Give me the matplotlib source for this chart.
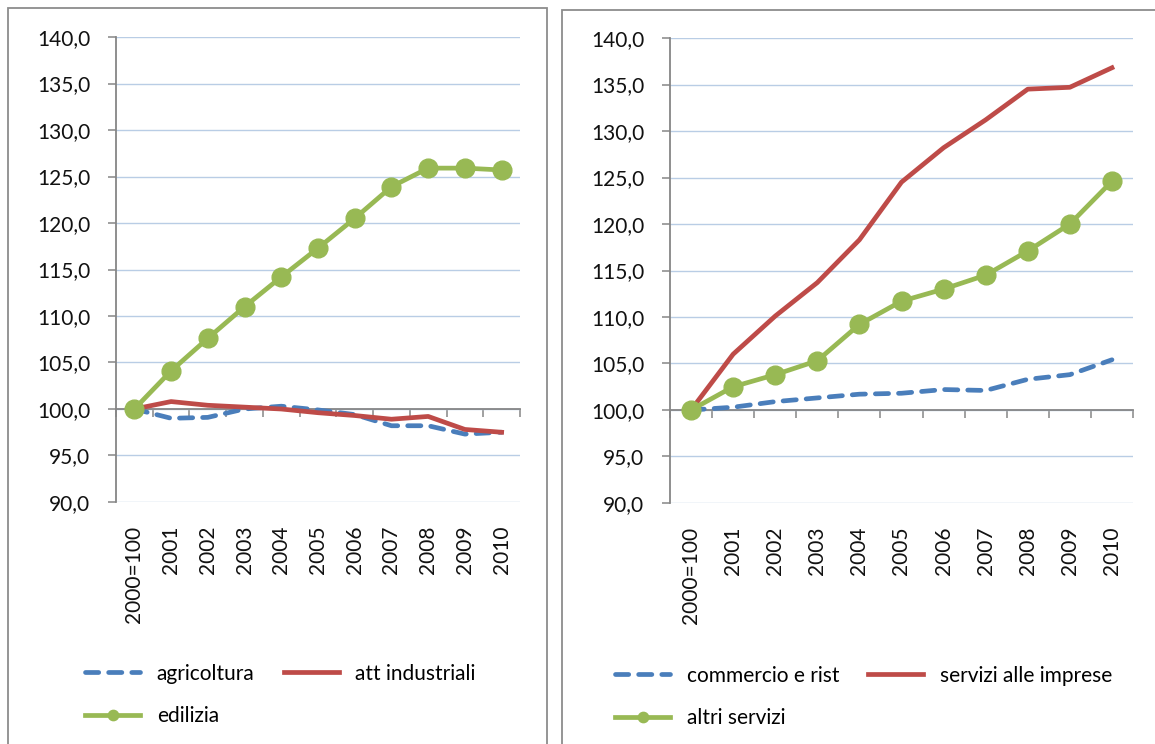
import matplotlib
matplotlib.use("Agg")
import matplotlib.pyplot as plt
from matplotlib.patches import Rectangle
from matplotlib.ticker import FuncFormatter, FixedLocator

plt.rcParams['font.family'] = ['Lato', 'DejaVu Sans']

categories = ["2000=100", "2001", "2002", "2003", "2004", "2005",
              "2006", "2007", "2008", "2009", "2010"]

# Left panel
agricoltura = [100.0, 99.0, 99.1, 100.0, 100.3, 99.9, 99.4, 98.2, 98.2, 97.3, 97.5]
att_industriali = [100.0, 100.8, 100.4, 100.2, 100.0, 99.6, 99.3, 98.9, 99.2, 97.8, 97.5]
edilizia = [100.0, 104.1, 107.6, 111.0, 114.2, 117.3, 120.5, 123.9, 125.9, 125.9, 125.7]

# Right panel
commercio = [100.0, 100.3, 100.9, 101.3, 101.7, 101.8, 102.2, 102.1, 103.3, 103.8, 105.4]
servizi_imprese = [100.0, 106.0, 110.1, 113.7, 118.3, 124.5, 128.2, 131.2, 134.5, 134.7, 136.8]
altri_servizi = [100.0, 102.5, 103.8, 105.3, 109.2, 111.7, 113.0, 114.5, 117.1, 120.0, 124.6]

left_labels = ["agricoltura", "att industriali", "edilizia"]
right_labels = ["commercio e rist", "servizi alle imprese", "altri servizi"]

yticks = [90, 95, 100, 105, 110, 115, 120, 125, 130, 135, 140]

BLUE = "#4a7ebb"
RED = "#be4b48"
GREEN = "#98b954"
GRID = "#b9cde5"
AXC = "#868686"

W, H = 1155, 744
fig = plt.figure(figsize=(W / 100, H / 100), dpi=100)
fig.patch.set_facecolor("white")

# panel borders
fig.patches.append(Rectangle((8 / W, -0.05), (547 - 8) / W, (744 - 8) / H + 0.05,
                             transform=fig.transFigure, fill=False,
                             edgecolor="#8c8c8c", lw=1.3, zorder=0))
fig.patches.append(Rectangle((562 / W, -0.05), (1200 - 562) / W, (744 - 10) / H + 0.05,
                             transform=fig.transFigure, fill=False,
                             edgecolor="#8c8c8c", lw=1.3, zorder=0))

ax_l = fig.add_axes([116 / W, (744 - 502) / H, (520 - 116) / W, (502 - 37) / H])
ax_r = fig.add_axes([670 / W, (744 - 503) / H, (1133 - 670) / W, (503 - 38) / H])

x = list(range(len(categories)))
fmt = FuncFormatter(lambda v, p: f"{v:.1f}".replace(".", ","))


def style(ax):
    ax.set_xlim(-0.5, len(categories) - 0.5)
    ax.set_ylim(90, 140)
    ax.yaxis.set_major_locator(FixedLocator(yticks))
    ax.yaxis.set_major_formatter(fmt)
    ax.grid(axis="y", color=GRID, lw=1.0)
    ax.set_axisbelow(True)
    for s in ["top", "right"]:
        ax.spines[s].set_visible(False)
    ax.spines["left"].set_color(AXC)
    ax.spines["left"].set_linewidth(1.3)
    ax.spines["bottom"].set_color(AXC)
    ax.spines["bottom"].set_linewidth(1.3)
    ax.spines["bottom"].set_position(("data", 100))
    ax.tick_params(axis="y", direction="out", length=5.5, width=1.1, color=AXC,
                   labelsize=15, pad=13, labelcolor="#111111")
    # category boundary ticks on axis crossing at 100
    ax.set_xticks([i - 0.5 for i in range(len(categories) + 1)])
    ax.set_xticklabels([])
    ax.tick_params(axis="x", direction="out", length=5.5, width=1.1, color=AXC)
    sec = ax.secondary_xaxis(0)
    sec.set_xticks(x)
    sec.set_xticklabels(categories, rotation=90, fontsize=15, color="#111111")
    sec.tick_params(length=0, pad=17)
    sec.spines["bottom"].set_visible(False)


def legend(ax, handles, labels, xy):
    h = [handles[0], handles[2], handles[1]]
    l = [labels[0], labels[2], labels[1]]
    fig.legend(h, l, loc="center left", bbox_to_anchor=xy,
               bbox_transform=fig.transFigure, ncol=2, frameon=False,
               fontsize=15, handlelength=2.64, handletextpad=0.8,
               columnspacing=1.4, labelspacing=1.08, borderpad=0,
               borderaxespad=0, markerscale=0.55)


lw = 3.4
for ax, series, labels, xy in [
    (ax_l, (agricoltura, att_industriali, edilizia), left_labels, (85 / W, (744 - 695) / H)),
    (ax_r, (commercio, servizi_imprese, altri_servizi), right_labels, (615 / W, (744 - 697) / H)),
]:
    style(ax)
    a, = ax.plot(x, series[0], color=BLUE, lw=lw, linestyle=(0, (2.8, 2.1)),
                 dash_capstyle="round", zorder=3, label=labels[0])
    b, = ax.plot(x, series[1], color=RED, lw=lw, zorder=3, label=labels[1])
    c, = ax.plot(x, series[2], color=GREEN, lw=lw, marker="o", markersize=13.5,
                 markeredgecolor=GREEN, zorder=4, label=labels[2])
    legend(ax, [a, b, c], labels, xy)

fig.savefig("out.png", dpi=100)
